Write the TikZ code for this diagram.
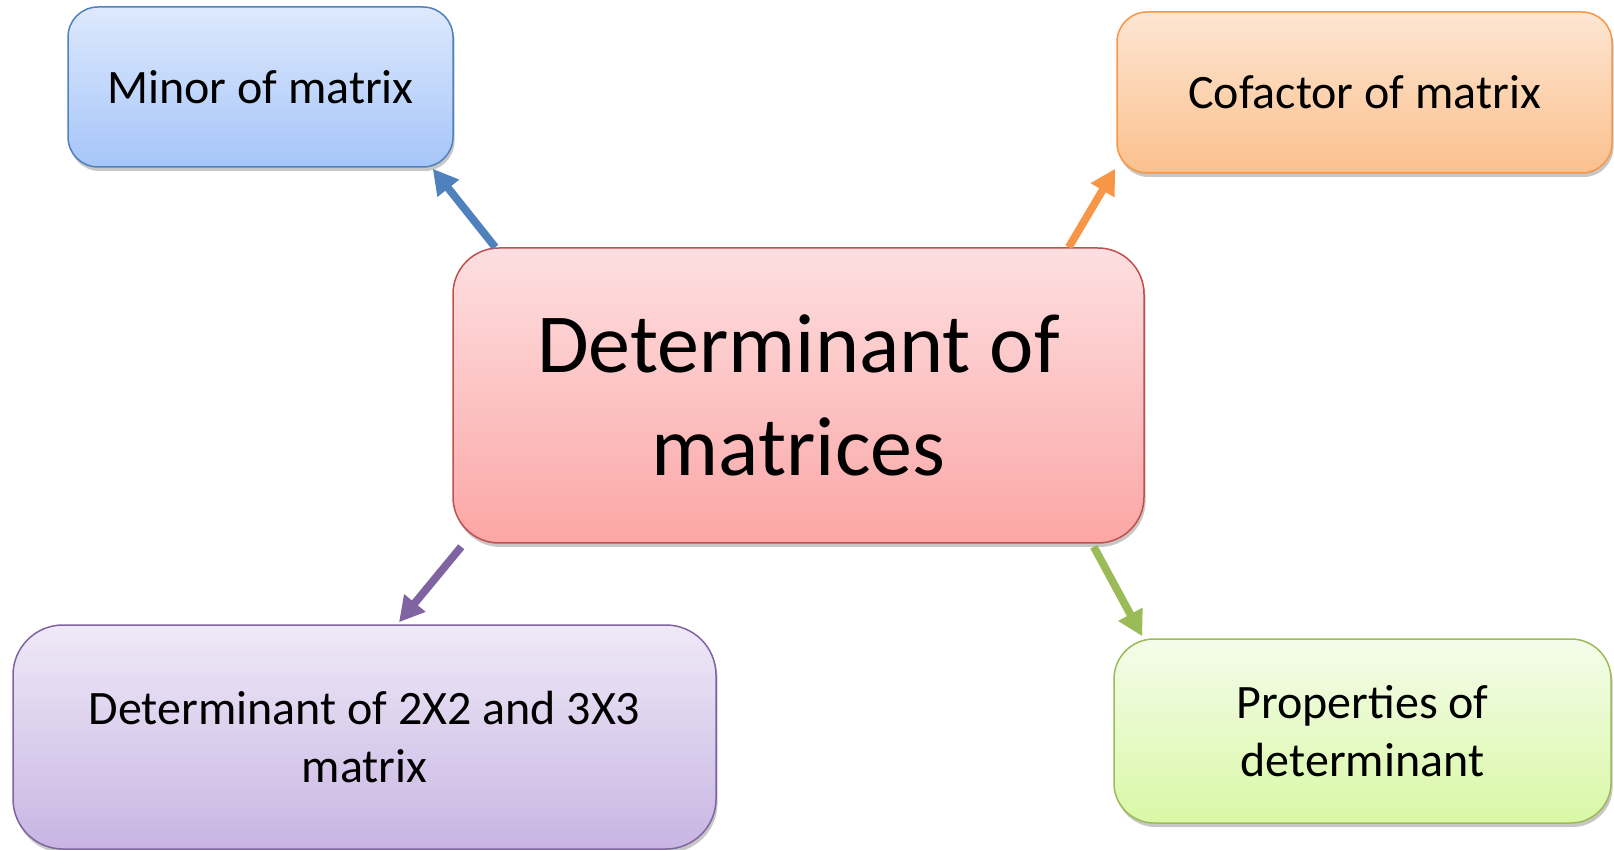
\documentclass[tikz,border=0pt]{standalone}
\usepackage{fontspec}
\setmainfont{Carlito}
\usetikzlibrary{arrows.meta,calc,shadows}
\definecolor{blueB}{HTML}{4F81BD}
\definecolor{blueT}{HTML}{DDE9FD}
\definecolor{blueD}{HTML}{A6C5F9}
\definecolor{orB}{HTML}{F79646}
\definecolor{orT}{HTML}{FDE6D3}
\definecolor{orD}{HTML}{FBC08D}
\definecolor{redB}{HTML}{C0504D}
\definecolor{redT}{HTML}{FDDFE1}
\definecolor{redD}{HTML}{FCA6A5}
\definecolor{puB}{HTML}{8064A2}
\definecolor{puT}{HTML}{EFE9F7}
\definecolor{puD}{HTML}{C8B5E3}
\definecolor{grB}{HTML}{9BBB59}
\definecolor{grT}{HTML}{F4FCEA}
\definecolor{grD}{HTML}{D9F8A6}
\tikzset{
  box/.style={draw, line width=0.75pt, inner sep=0pt, align=center,
    drop shadow={shadow xshift=0.8pt, shadow yshift=-2pt, opacity=0.22, fill=black}},
  small/.style={font=\fontsize{24}{29}\selectfont},
  big/.style={font=\fontsize{42}{51.5}\selectfont},
  conn/.style={line width=3.9pt, -{Triangle[length=12.5pt,width=13pt]}},
}
\begin{document}
\begin{tikzpicture}[x=0.5pt,y=-0.5pt]
\useasboundingbox (0,0) rectangle (1614,850);
\node[box, small, rounded corners=15pt, draw=blueB, top color=blueT, bottom color=blueD,
  minimum width=192.5pt, minimum height=80pt] (minor) at (260.5,87) {Minor of matrix};
\node[box, small, rounded corners=15pt, draw=orB, top color=orT, bottom color=orD,
  minimum width=247.5pt, minimum height=80.5pt] (cof) at (1364.5,92.5) {Cofactor of matrix};
\node[box, big, rounded corners=23pt, draw=redB, top color=redT, bottom color=redD,
  minimum width=345.5pt, minimum height=147.5pt] (c) at (798.5,395.5) {Determinant of\\matrices};
\node[box, small, rounded corners=25pt, draw=puB, top color=puT, bottom color=puD,
  minimum width=351.5pt, minimum height=112pt] (det) at (364.5,737) {Determinant of 2X2 and 3X3\\matrix};
\node[box, small, rounded corners=20pt, draw=grB, top color=grT, bottom color=grD,
  minimum width=248.5pt, minimum height=92pt] (prop) at (1362.5,731) {Properties of\\determinant};
\draw[conn, blueB] ($(c.north west)+(43,0)$) -- ($(minor.south east)+(-21,1)$);
\draw[conn, orB] ($(c.north east)+(-76,0)$) -- ($(cof.south west)+(-1,-5)$);
\draw[conn, puB] ($(c.south west)+(9,3)$) -- ($(det.north)+(34.5,-2)$);
\draw[conn, grB] ($(c.south east)+(-51,3)$) -- ($(prop.north west)+(29,-2)$);
\end{tikzpicture}
\end{document}
